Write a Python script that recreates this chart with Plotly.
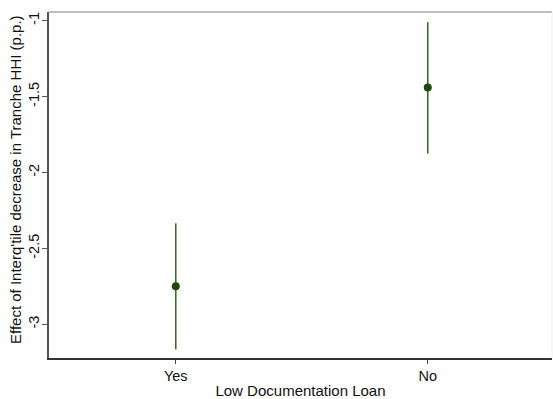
import plotly.graph_objects as go

# Point estimates and 95% confidence bounds by loan documentation type
categories = ["Yes", "No"]
estimates = [-2.75, -1.44]
ci_lower = [-3.165, -1.875]
ci_upper = [-2.335, -1.01]

positions = list(range(1, len(categories) + 1))
err_plus = [u - e for u, e in zip(ci_upper, estimates)]
err_minus = [e - l for e, l in zip(estimates, ci_lower)]

fig = go.Figure()
fig.add_trace(go.Scatter(
    x=positions,
    y=estimates,
    mode="markers",
    marker=dict(color="#1f4a0c", size=8),
    error_y=dict(
        type="data",
        symmetric=False,
        array=err_plus,
        arrayminus=err_minus,
        color="#3f6b22",
        thickness=1.6,
        width=0,
    ),
    showlegend=False,
))

font_family = "Liberation Sans, Arial, sans-serif"

fig.update_layout(
    width=553,
    height=399,
    margin=dict(l=49, r=1, t=12, b=41),
    paper_bgcolor="white",
    plot_bgcolor="white",
    font=dict(family=font_family, size=14, color="#111"),
    xaxis=dict(
        range=[0.497, 2.493],
        tickvals=positions,
        ticktext=categories,
        ticks="outside",
        ticklen=4,
        tickcolor="#444",
        showgrid=False,
        zeroline=False,
        showline=True,
        linecolor="#333",
        linewidth=2,
        title=dict(text="Low Documentation Loan", standoff=3, font=dict(size=15)),
        tickfont=dict(size=14.5),
    ),
    yaxis=dict(
        range=[-3.222, -0.943],
        tickvals=[-3, -2.5, -2, -1.5, -1],
        ticktext=["-3", "-2.5", "-2", "-1.5", "-1"],
        tickangle=-90,
        ticks="outside",
        ticklen=5,
        tickcolor="#555",
        ticklabelstandoff=-3,
        showgrid=False,
        zeroline=False,
        showline=True,
        linecolor="#555",
        linewidth=1.5,
        tickfont=dict(size=14.5),
    ),
    annotations=[
        dict(text="Effect of Interq'tile decrease in Tranche HHI (p.p.)",
             xref="paper", yref="paper", x=0, y=0.5, xshift=-34, yshift=5,
             xanchor="center", yanchor="middle", textangle=-90,
             showarrow=False, font=dict(size=15, color="#111")),
    ],
    shapes=[
        dict(type="line", xref="paper", yref="paper", x0=0, x1=1, y0=1, y1=1,
             line=dict(color="#a8a8a8", width=1.5)),
        dict(type="line", xref="paper", yref="paper", x0=1, x1=1, y0=0, y1=1,
             line=dict(color="#eeeeee", width=1)),
    ],
)

fig.write_html("out.html")
